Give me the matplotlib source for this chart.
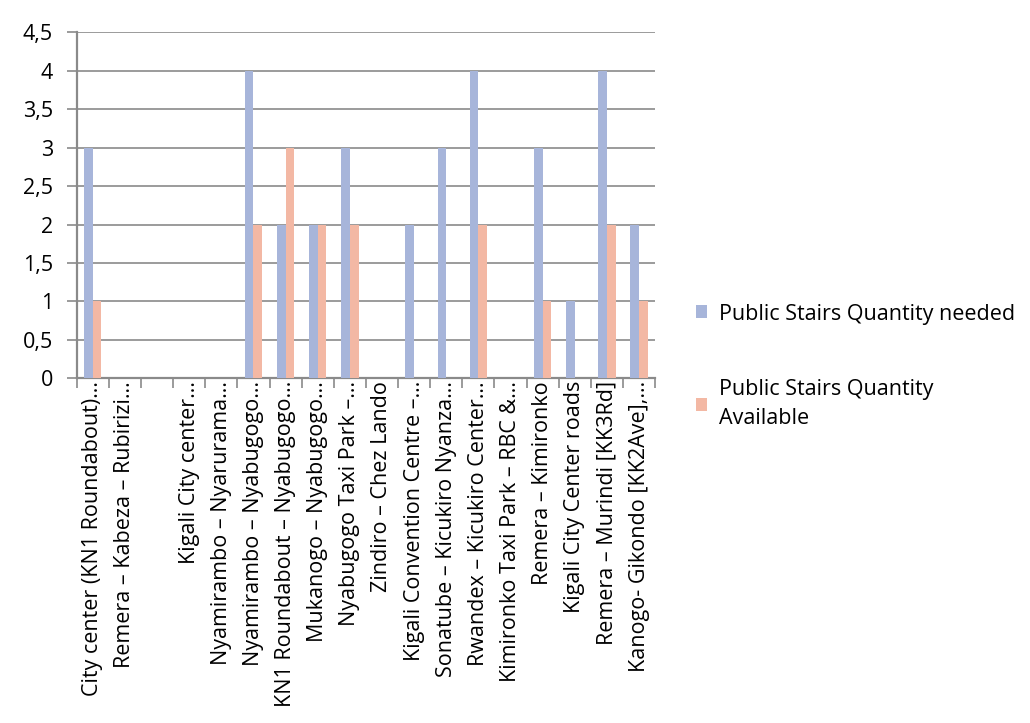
import matplotlib
matplotlib.use("Agg")
import matplotlib.pyplot as plt
import numpy as np
from matplotlib.patches import Patch

categories = [
    "City center (KN1 Roundabout)…",
    "Remera – Kabeza – Rubirizi…",
    "",
    "Kigali City center…",
    "Nyamirambo – Nyarurama…",
    "Nyamirambo – Nyabugogo…",
    "KN1 Roundabout – Nyabugogo…",
    "Mukanogo – Nyabugogo…",
    "Nyabugogo Taxi Park –…",
    "Zindiro – Chez Lando",
    "Kigali Convention Centre –…",
    "Sonatube – Kicukiro Nyanza…",
    "Rwandex – Kicukiro Center…",
    "Kimironko Taxi Park – RBC &…",
    "Remera – Kimironko",
    "Kigali City Center roads",
    "Remera – Murindi [KK3Rd]",
    "Kanogo- Gikondo [KK2Ave],…",
]
needed = [3, 0, 0, 0, 0, 4, 2, 2, 3, 0, 2, 3, 4, 0, 3, 1, 4, 2]
available = [1, 0, 0, 0, 0, 2, 3, 2, 2, 0, 0, 0, 2, 0, 1, 0, 2, 1]
series_names = ["Public Stairs Quantity needed", "Public Stairs Quantity\nAvailable"]
y_ticks = [0, 0.5, 1, 1.5, 2, 2.5, 3, 3.5, 4, 4.5]
y_tick_labels = ["0", "0,5", "1", "1,5", "2", "2,5", "3", "3,5", "4", "4,5"]

blue = "#A7B5DA"
orange = "#F3B8A4"
grid_c = "#8A8A8A"

plt.rcParams['font.family'] = ['Open Sans', 'DejaVu Sans']
FS = 15.5

fig = plt.figure(figsize=(10.30, 7.23), dpi=100)
ax = fig.add_axes([0.0745, 0.4768, 0.5615, 0.4785])

x = np.arange(len(categories))
w = 0.27
ax.bar(x - w / 2, needed, width=w, color=blue, zorder=3)
ax.bar(x + w / 2, available, width=w, color=orange, zorder=3)

ax.set_xlim(-0.5, len(categories) - 0.5)
ax.set_ylim(0, 4.5)
ax.set_yticks(y_ticks)
ax.set_yticklabels(y_tick_labels, fontsize=FS)
ax.yaxis.grid(True, color=grid_c, linewidth=1.2, zorder=0)

# boundary ticks (major) and centered labels (minor)
ax.set_xticks(np.arange(len(categories) + 1) - 0.5)
ax.set_xticklabels([])
ax.set_xticks(x, minor=True)
ax.set_xticklabels(categories, minor=True, rotation=90, fontsize=FS, va='top', ha='center')
ax.tick_params(axis='x', which='major', length=7, width=1.2, color=grid_c)
ax.tick_params(axis='x', which='minor', length=0, pad=2)
ax.tick_params(axis='y', length=7, width=1.2, color=grid_c, pad=10)

for s in ['top', 'right']:
    ax.spines[s].set_visible(False)
for s in ['left', 'bottom']:
    ax.spines[s].set_color(grid_c)
    ax.spines[s].set_linewidth(1.6)

handles = [Patch(facecolor=blue), Patch(facecolor=orange)]
leg = fig.legend(handles, series_names, loc='upper left', bbox_to_anchor=(0.667, 0.592),
                 frameon=False, fontsize=FS, handlelength=0.55, handleheight=0.55,
                 handletextpad=0.55, labelspacing=2.55, borderaxespad=0)
leg.get_texts()[1].set_linespacing(1.5)

fig.savefig("out.png", dpi=100)
